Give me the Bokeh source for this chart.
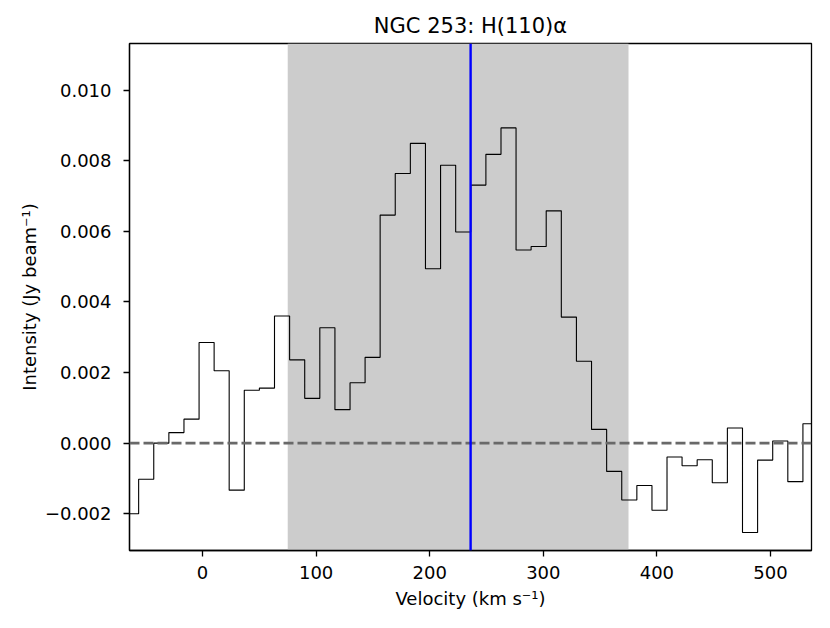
import numpy as np
from bokeh.plotting import figure
from bokeh.models import Span, BoxAnnotation, FixedTicker, CustomJSTickFormatter, Range1d
from bokeh.embed import file_html
from bokeh.resources import INLINE

# Channel centre velocities (km/s) and intensities (Jy/beam)
velocity = [-62.9, -49.6, -36.3, -23.0, -9.7, 3.6, 16.8, 30.1, 43.4, 56.7,
            70.0, 83.3, 96.6, 109.9, 123.2, 136.5, 149.7, 163.0, 176.3, 189.6,
            202.9, 216.2, 229.5, 242.8, 256.1, 269.4, 282.6, 295.9, 309.2, 322.5,
            335.8, 349.1, 362.4, 375.7, 389.0, 402.3, 415.5, 428.8, 442.1, 455.4,
            468.7, 482.0, 495.3, 508.6, 521.9, 535.2]
intensity = [-0.00200, -0.00102, 0.00000, 0.00030, 0.00068, 0.00285, 0.00205, -0.00133, 0.00150, 0.00156,
             0.00360, 0.00236, 0.00127, 0.00327, 0.00095, 0.00171, 0.00243, 0.00646, 0.00764, 0.00849,
             0.00494, 0.00787, 0.00598, 0.00731, 0.00818, 0.00893, 0.00547, 0.00557, 0.00658, 0.00357,
             0.00232, 0.00039, -0.00080, -0.00161, -0.00120, -0.00190, -0.00039, -0.00064, -0.00047, -0.00112,
             0.00043, -0.00253, -0.00048, 0.00006, -0.00109, 0.00055]

line_window = [75, 375]      # shaded velocity window
v_sys = 236                  # systemic velocity marker
x_ticks = [0, 100, 200, 300, 400, 500]
y_ticks = [-0.002, 0.0, 0.002, 0.004, 0.006, 0.008, 0.010]
title_text = "NGC 253: H(110)\u03b1"
x_label = "Velocity (km s\u207b\u00b9)"
y_label = "Intensity (Jy beam\u207b\u00b9)"

v = np.array(velocity)
half = (v[1] - v[0]) / 2
edges = np.concatenate([[v[0] - half], (v[:-1] + v[1:]) / 2, [v[-1] + half]])
vals = list(intensity) + [intensity[-1]]

FONT = "DejaVu Sans"
p = figure(frame_width=682, frame_height=507, output_backend="svg", toolbar_location=None,
           x_range=Range1d(-64.3, 536.1), y_range=Range1d(-0.00304, 0.01132),
           min_border_left=129, min_border_right=11, min_border_top=43, min_border_bottom=70)

p.add_layout(BoxAnnotation(left=line_window[0], right=line_window[1], fill_color="#cccccc",
                           fill_alpha=1.0, line_color=None, level="underlay"))

p.step(x=edges, y=vals, mode="after", line_color="black", line_width=1.1)

p.add_layout(Span(location=0, dimension="width", line_color="#696969", line_width=2.6,
                  line_dash="10 4"))
p.add_layout(Span(location=v_sys, dimension="height", line_color="#0000ff", line_width=2.4))

p.title.text = title_text
p.title.align = "center"
p.title.text_font = FONT
p.title.text_font_size = "21px"
p.title.text_font_style = "normal"
p.title.text_color = "black"
p.title.standoff = 12

p.xgrid.visible = False
p.ygrid.visible = False
p.outline_line_color = "black"
p.outline_line_width = 1.3
p.outline_line_alpha = 1.0

p.xaxis.ticker = FixedTicker(ticks=x_ticks)
p.yaxis.ticker = FixedTicker(ticks=y_ticks)
p.yaxis.formatter = CustomJSTickFormatter(code="""
    if (Math.abs(tick) < 1e-12) { return "0.000"; }
    var s = Math.abs(tick).toFixed(3);
    return (tick < 0 ? "\u2212" : "") + s;
""")
p.xaxis.axis_label = x_label
p.yaxis.axis_label = y_label

for ax in (p.xaxis, p.yaxis):
    ax.axis_line_color = "black"
    ax.axis_line_width = 1.3
    ax.major_tick_line_color = "black"
    ax.major_tick_line_width = 1.3
    ax.major_tick_out = 6
    ax.major_tick_in = 0
    ax.minor_tick_line_color = None
    ax.major_label_text_font = FONT
    ax.major_label_text_font_size = "18px"
    ax.major_label_text_color = "black"
    ax.axis_label_text_font = FONT
    ax.axis_label_text_font_size = "18px"
    ax.axis_label_text_font_style = "normal"
    ax.axis_label_text_color = "black"

p.xaxis.major_label_standoff = 9
p.xaxis.axis_label_standoff = 6
p.yaxis.major_label_standoff = 12
p.yaxis.axis_label_standoff = 2

open("out.html", "w").write(file_html(p, INLINE))
